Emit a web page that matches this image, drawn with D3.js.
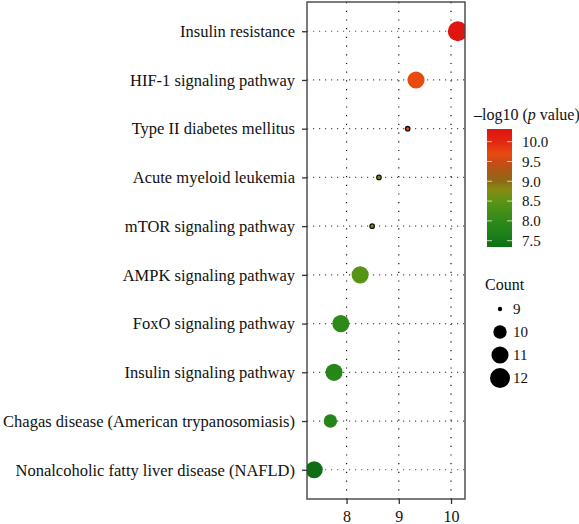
<!DOCTYPE html>
<html>
<head>
<meta charset="utf-8">
<script src="https://cdn.jsdelivr.net/npm/d3@7"></script>
<style>
  html, body { margin: 0; padding: 0; background: #fff; }
  svg { display: block; font-family: "Liberation Serif", "DejaVu Serif", serif; }
</style>
</head>
<body>
<div id="chart"></div>
<script>
// ---- Data (top to bottom) ----
const categories = [
  "Insulin resistance",
  "HIF-1 signaling pathway",
  "Type II diabetes mellitus",
  "Acute myeloid leukemia",
  "mTOR signaling pathway",
  "AMPK signaling pathway",
  "FoxO signaling pathway",
  "Insulin signaling pathway",
  "Chagas disease (American trypanosomiasis)",
  "Nonalcoholic fatty liver disease (NAFLD)"
];
const xValues = [10.13, 9.33, 9.17, 8.62, 8.49, 8.26, 7.89, 7.76, 7.69, 7.38];
const negLogP = [10.32, 9.70, 9.65, 8.80, 8.70, 8.45, 7.95, 7.85, 7.80, 7.34];
const counts  = [12, 11, 9, 9, 9, 11, 11, 11, 10, 11];
const xTicks = [8, 9, 10];
const colorTicks = [7.5, 8.0, 8.5, 9.0, 9.5, 10.0];
const countBreaks = [9, 10, 11, 12];
// colour ramp stops (value -> colour)
const rampValues = [7.34, 7.6, 8.0, 8.5, 8.8, 9.0, 9.5, 9.7, 10.0, 10.32];
const rampColors = ["#0e6e16", "#1a7e1a", "#2e8a1a", "#5c9414", "#8a8a12", "#8a6a16", "#cc4a16", "#e84a10", "#e22612", "#e01510"];

const W = 579, H = 524;
const panel = { left: 307, right: 465, top: 2, bottom: 499 };
const FONT = "'Liberation Serif', 'DejaVu Serif', serif";
const TXT = "#111";

const svg = d3.select("#chart").append("svg")
  .attr("width", W).attr("height", H);

const data = categories.map((c, i) => ({ cat: c, x: xValues[i], p: negLogP[i], n: counts[i] }));

// x scale with 5% expansion
const xExt = d3.extent(xValues);
const xPad = (xExt[1] - xExt[0]) * 0.05;
const x = d3.scaleLinear().domain([xExt[0] - xPad, xExt[1] + xPad]).range([panel.left, panel.right]);
const y = d3.scalePoint().domain(categories).range([panel.top, panel.bottom]).padding(0.6);

const pExt = d3.extent(negLogP);
const color = d3.scaleLinear().domain(rampValues).range(rampColors).clamp(true);

const nExt = d3.extent(countBreaks);
const rBase = d3.scaleSqrt().domain([0, nExt[1] - nExt[0]]).range([2.2, 10]);
const radius = n => rBase(n - nExt[0]);

// grid
const grid = svg.append("g");
grid.selectAll("line.h").data(categories).join("line")
  .attr("x1", panel.left).attr("x2", panel.right)
  .attr("y1", d => y(d)).attr("y2", d => y(d))
  .attr("stroke", "#555").attr("stroke-width", 1.2).attr("stroke-dasharray", "1.2,4.8");
grid.selectAll("line.v").data(xTicks).join("line")
  .attr("x1", d => x(d)).attr("x2", d => x(d))
  .attr("y1", panel.top).attr("y2", panel.bottom)
  .attr("stroke", "#111").attr("stroke-width", 1.2).attr("stroke-dasharray", "1.2,7.5");

// points
svg.append("clipPath").attr("id", "pclip").append("rect")
  .attr("x", panel.left).attr("y", panel.top)
  .attr("width", panel.right - panel.left).attr("height", panel.bottom - panel.top);
svg.append("g").attr("clip-path", "url(#pclip)")
  .selectAll("circle").data(data).join("circle")
  .attr("cx", d => x(d.x)).attr("cy", d => y(d.cat))
  .attr("r", d => radius(d.n))
  .attr("fill", d => color(d.p))
  .attr("stroke", d => d.n === nExt[0] ? "#111" : "none")
  .attr("stroke-width", 1.3);

// panel border
svg.append("rect")
  .attr("x", panel.left).attr("y", panel.top)
  .attr("width", panel.right - panel.left).attr("height", panel.bottom - panel.top)
  .attr("fill", "none").attr("stroke", "#444").attr("stroke-width", 1.4);

// axes
const yAxis = svg.append("g").attr("transform", `translate(${panel.left},0)`)
  .call(d3.axisLeft(y).tickSize(5).tickPadding(7));
yAxis.select(".domain").remove();
yAxis.selectAll(".tick line").attr("stroke", "#333").attr("stroke-width", 1.3);
yAxis.selectAll(".tick text").attr("font-size", 16.5).attr("fill", TXT)
  .attr("font-family", FONT);

const xAxis = svg.append("g").attr("transform", `translate(0,${panel.bottom})`)
  .call(d3.axisBottom(x).tickValues(xTicks).tickFormat(d3.format("d")).tickSize(5).tickPadding(7));
xAxis.select(".domain").remove();
xAxis.selectAll(".tick line").attr("stroke", "#333").attr("stroke-width", 1.3);
xAxis.selectAll(".tick text").attr("font-size", 16).attr("fill", TXT)
  .attr("font-family", FONT);

// color legend
const cb = { x: 487, w: 25, top: 129, bottom: 247 };
const title = svg.append("text").attr("x", 474).attr("y", 120)
  .attr("font-size", 16).attr("fill", TXT);
title.append("tspan").text("\u2013log10 (");
title.append("tspan").attr("font-style", "italic").text("p");
title.append("tspan").text(" value)");

const defs = svg.append("defs");
const grad = defs.append("linearGradient").attr("id", "cbgrad")
  .attr("x1", 0).attr("x2", 0).attr("y1", 1).attr("y2", 0);
d3.range(0, 1.0001, 0.025).forEach(t => {
  grad.append("stop").attr("offset", t)
    .attr("stop-color", color(pExt[0] + t * (pExt[1] - pExt[0])));
});
svg.append("rect").attr("x", cb.x).attr("y", cb.top)
  .attr("width", cb.w).attr("height", cb.bottom - cb.top)
  .attr("fill", "url(#cbgrad)");
const cy = d3.scaleLinear().domain(pExt).range([cb.bottom, cb.top]);
const cbt = svg.append("g");
colorTicks.forEach(v => {
  cbt.append("line").attr("x1", cb.x).attr("x2", cb.x + 5)
    .attr("y1", cy(v)).attr("y2", cy(v)).attr("stroke", "#f4f0c8").attr("stroke-width", 1).attr("opacity", 0.8);
  cbt.append("line").attr("x1", cb.x + cb.w - 5).attr("x2", cb.x + cb.w)
    .attr("y1", cy(v)).attr("y2", cy(v)).attr("stroke", "#f4f0c8").attr("stroke-width", 1).attr("opacity", 0.8);
  cbt.append("text").attr("x", 522).attr("y", cy(v)).attr("dy", "0.35em")
    .attr("font-size", 15).attr("fill", TXT).text(d3.format(".1f")(v));
});

// size legend
svg.append("text").attr("x", 485).attr("y", 290).attr("font-size", 16)
  .attr("fill", TXT).text("Count");
const sl = svg.append("g");
countBreaks.forEach((n, i) => {
  const yy = 309 + i * 23;
  sl.append("circle").attr("cx", 500).attr("cy", yy).attr("r", radius(n)).attr("fill", "#000");
  sl.append("text").attr("x", 513).attr("y", yy).attr("dy", "0.35em")
    .attr("font-size", 15).attr("fill", TXT).text(n);
});
</script>
</body>
</html>
